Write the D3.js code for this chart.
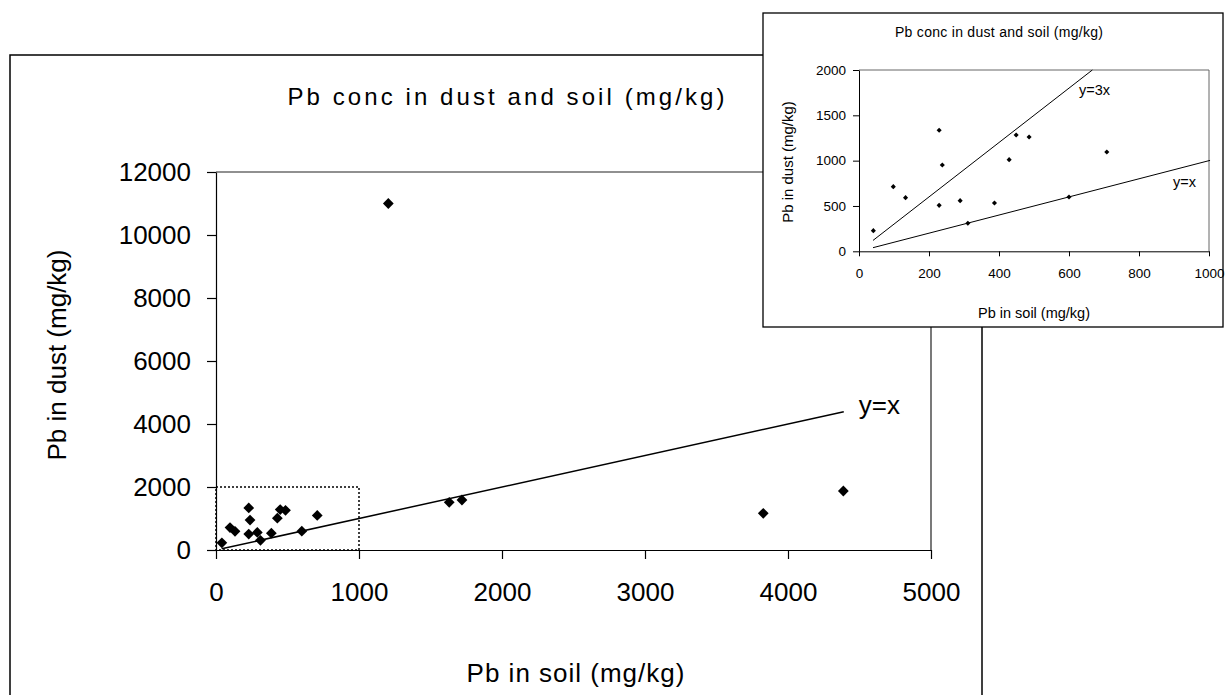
<!DOCTYPE html>
<html>
<head>
<meta charset="utf-8">
<script src="https://cdn.jsdelivr.net/npm/d3@7"></script>
<style>
  body { margin: 0; background: #fff; }
  svg { display: block; font-family: "Liberation Sans", Arial, sans-serif; }
</style>
</head>
<body>
<div id="chart"></div>
<script>
// Pb in soil vs Pb in dust (mg/kg)
const soil = [41, 98, 133, 229, 238, 229, 289, 311, 387, 429, 449, 486, 600, 708, 1205, 1631, 1720, 3827, 4387];
const dust = [228, 713, 592, 1335, 952, 507, 559, 309, 533, 1011, 1283, 1261, 599, 1096, 11000, 1514, 1587, 1164, 1873];

const mainXTicks = [0, 1000, 2000, 3000, 4000, 5000];
const mainYTicks = [0, 2000, 4000, 6000, 8000, 10000, 12000];
const insetXTicks = [0, 200, 400, 600, 800, 1000];
const insetYTicks = [0, 500, 1000, 1500, 2000];

// reference lines: [slope, xStart, xEnd, label]
const mainLines = [[1, 40, 4390, "y=x"]];
const insetLines = [[1, 40, 1003, "y=x"], [3, 40, 666.7, "y=3x"]];

const title = "Pb conc in dust and soil (mg/kg)";
const xTitle = "Pb in soil (mg/kg)";
const yTitle = "Pb in dust (mg/kg)";

const W = 1225, H = 695;
const points = soil.map((s, i) => ({ s: s, d: dust[i] }));
const fmt = d3.format("d");

const svg = d3.select("#chart").append("svg")
    .attr("width", W).attr("height", H);
svg.append("rect").attr("width", W).attr("height", H).attr("fill", "#fff");

// ---------- main chart ----------
svg.append("rect")
    .attr("x", 10).attr("y", 55).attr("width", 972).attr("height", 700)
    .attr("fill", "#fff").attr("stroke", "#000").attr("stroke-width", 1.5);

const x = d3.scaleLinear().domain([0, 5000]).range([216, 931]);
const y = d3.scaleLinear().domain([0, 12000]).range([550, 172]);

const main = svg.append("g");

// plot box top & right
main.append("path")
    .attr("d", `M${x(0)},${y(12000)}H${x(5000)}V${y(0)}`)
    .attr("fill", "none").attr("stroke", "#222").attr("stroke-width", 1.2);

const gx = main.append("g").attr("transform", `translate(0,${y(0)})`)
    .call(d3.axisBottom(x).tickValues(mainXTicks).tickSize(9).tickSizeOuter(0).tickPadding(24).tickFormat(fmt));
const gy = main.append("g").attr("transform", `translate(${x(0)},0)`)
    .call(d3.axisLeft(y).tickValues(mainYTicks).tickSize(9).tickSizeOuter(0).tickPadding(16).tickFormat(fmt));
[gx, gy].forEach(g => {
    g.selectAll("path,line").attr("stroke", "#000").attr("stroke-width", 1.2);
    g.selectAll("text").attr("font-size", 26).attr("fill", "#000")
        .attr("font-family", '"Liberation Sans", Arial, sans-serif');
});

// dotted zoom box
main.append("rect")
    .attr("x", x(0)).attr("y", y(2000))
    .attr("width", x(1000) - x(0)).attr("height", y(0) - y(2000))
    .attr("fill", "none").attr("stroke", "#000").attr("stroke-width", 1.5)
    .attr("stroke-dasharray", "2,2");

mainLines.forEach(([k, a, b, lab]) => {
    main.append("line")
        .attr("x1", x(a)).attr("y1", y(k * a)).attr("x2", x(b)).attr("y2", y(k * b))
        .attr("stroke", "#000").attr("stroke-width", 1.5);
    main.append("text")
        .attr("x", x(b) + 15).attr("y", y(k * b) + 2)
        .attr("font-size", 26).text(lab);
});

main.selectAll("path.pt").data(points).enter().append("path")
    .attr("class", "pt")
    .attr("d", d3.symbol(d3.symbolSquare, 58))
    .attr("transform", p => `translate(${x(p.s)},${y(p.d)}) rotate(45)`)
    .attr("fill", "#000");

main.append("text")
    .attr("x", 506).attr("y", 105).attr("text-anchor", "middle")
    .attr("font-size", 24).attr("textLength", 437).attr("lengthAdjust", "spacing")
    .text(title);
main.append("text")
    .attr("x", 576).attr("y", 682).attr("text-anchor", "middle")
    .attr("font-size", 26).attr("letter-spacing", 1).text(xTitle);
main.append("text")
    .attr("transform", "translate(66,355) rotate(-90)").attr("text-anchor", "middle")
    .attr("font-size", 26).text(yTitle);

// ---------- inset ----------
svg.append("rect")
    .attr("x", 763).attr("y", 13).attr("width", 460).attr("height", 314)
    .attr("fill", "#fff").attr("stroke", "#000").attr("stroke-width", 1.3);

const xi = d3.scaleLinear().domain([0, 1000]).range([859, 1209]);
const yi = d3.scaleLinear().domain([0, 2000]).range([251.3, 70]);
const inset = svg.append("g");

inset.append("path")
    .attr("d", `M${xi(0)},${yi(2000)}H${xi(1000)}V${yi(0)}`)
    .attr("fill", "none").attr("stroke", "#666").attr("stroke-width", 1);

const ix = inset.append("g").attr("transform", `translate(0,${yi(0)})`)
    .call(d3.axisBottom(xi).tickValues(insetXTicks).tickSize(5).tickSizeOuter(0).tickPadding(12).tickFormat(fmt));
const iy = inset.append("g").attr("transform", `translate(${xi(0)},0)`)
    .call(d3.axisLeft(yi).tickValues(insetYTicks).tickSize(6).tickSizeOuter(0).tickPadding(7).tickFormat(fmt));
[ix, iy].forEach(g => {
    g.selectAll("path,line").attr("stroke", "#000").attr("stroke-width", 1);
    g.selectAll("text").attr("font-size", 13.5).attr("fill", "#000")
        .attr("font-family", '"Liberation Sans", Arial, sans-serif');
});

insetLines.forEach(([k, a, b, lab]) => {
    inset.append("line")
        .attr("x1", xi(a)).attr("y1", yi(k * a)).attr("x2", xi(b)).attr("y2", yi(k * b))
        .attr("stroke", "#000").attr("stroke-width", 1);
});
inset.append("text").attr("x", 1079).attr("y", 95).attr("font-size", 14.5).text(insetLines[1][3]);
inset.append("text").attr("x", 1173).attr("y", 187).attr("font-size", 14.5).text(insetLines[0][3]);

inset.selectAll("path.pt").data(points.filter(p => p.s <= 1000 && p.d <= 2000)).enter().append("path")
    .attr("class", "pt")
    .attr("d", d3.symbol(d3.symbolSquare, 13))
    .attr("transform", p => `translate(${xi(p.s)},${yi(p.d)}) rotate(45)`)
    .attr("fill", "#000");

inset.append("text")
    .attr("x", 999).attr("y", 37).attr("text-anchor", "middle")
    .attr("font-size", 14).attr("textLength", 208).attr("lengthAdjust", "spacing")
    .text(title);
inset.append("text")
    .attr("x", 1034).attr("y", 318).attr("text-anchor", "middle")
    .attr("font-size", 14.5).text(xTitle);
inset.append("text")
    .attr("transform", "translate(793,162) rotate(-90)").attr("text-anchor", "middle")
    .attr("font-size", 15).text(yTitle);
</script>
</body>
</html>
